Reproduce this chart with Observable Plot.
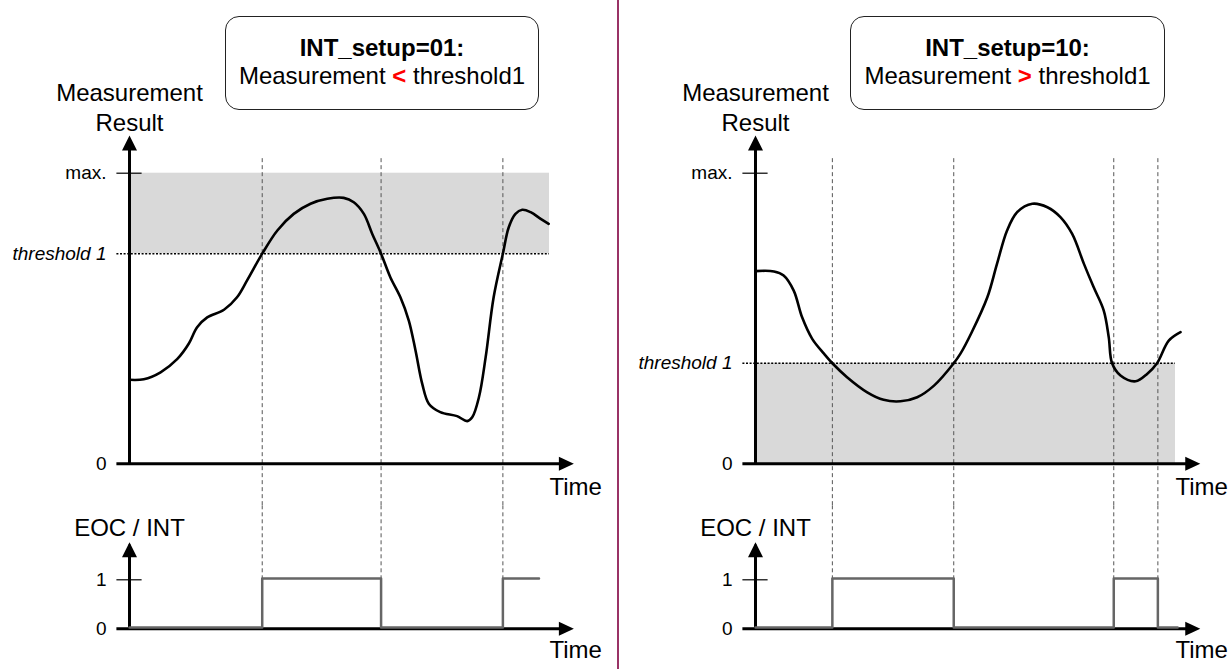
<!DOCTYPE html>
<html>
<head>
<meta charset="utf-8">
<script src="https://cdn.jsdelivr.net/npm/d3@7"></script>
<script src="https://cdn.jsdelivr.net/npm/@observablehq/plot@0.6"></script>
<style>
  html, body { margin: 0; padding: 0; background: #fff; }
  #root { position: relative; width: 1230px; height: 669px; overflow: hidden; background: #fff;
          font-family: "Liberation Sans", Arial, sans-serif; color: #000; }
  .side { position: absolute; top: 0; width: 604px; height: 669px; }
  .side > svg { position: absolute; left: 0; overflow: visible; }
  .box { position: absolute; top: 16px; height: 94px; box-sizing: border-box; border: 1.5px solid #222;
         border-radius: 14px; text-align: center; font-size: 24px; line-height: 28px; padding-top: 17px; }
  .box b { font-weight: bold; }
  .box .op { color: #ff0000; font-weight: bold; }
  .divider { position: absolute; left: 617px; top: 0; width: 1.5px; height: 669px; background: #993366; }
</style>
</head>
<body>
<div id="root">
  <div class="box" style="left:225px;width:314px;"><b>INT_setup=01:</b><br>Measurement <span class="op">&lt;</span> threshold1</div>
  <div class="box" style="left:850px;width:315px;"><b>INT_setup=10:</b><br>Measurement <span class="op">&gt;</span> threshold1</div>
  <div class="divider"></div>
</div>
<script>
// ---------- data (time in % of the window, measurement in % of max.) ----------
const measurementMax = 100;

const leftThreshold = 72.3;
const leftTime  = [0, 3.4, 7.4, 11.4, 14.1, 16.1, 18.5, 22.5, 25.6, 28.0, 31.6, 35.2, 39.1, 43.1, 47.1, 51.0, 53.4, 55.8, 57.8, 59.9, 62.1, 64.5, 66.5, 68.1, 69.7, 71.3, 74.0, 78.0, 80.4, 81.6, 83.2, 84.8, 86.7, 88.9, 90.3, 91.9, 93.5, 95.5, 97.9, 99.8];
const leftValue = [28.9, 29.1, 31.5, 36.1, 41.3, 47.0, 50.4, 53.0, 57.3, 63.1, 72.3, 80.3, 86.0, 89.5, 91.2, 91.5, 90.0, 86.0, 79.1, 72.3, 64.2, 57.3, 49.3, 39.0, 27.5, 20.6, 17.8, 16.4, 14.7, 16.0, 22.9, 36.7, 57.3, 72.3, 81.4, 86.0, 87.4, 86.6, 84.3, 82.6];
const leftCrossings = [31.6, 59.9, 88.9];
const leftEocTime  = [0, 31.6, 59.9, 88.9, 97.5];
const leftEocValue = [0, 1, 0, 1, 1];

const rightThreshold = 34.6;
const rightTime  = [0, 4.4, 6.7, 9.1, 11.1, 13.5, 16.3, 18.3, 21.8, 26.6, 30.5, 34.5, 38.5, 42.5, 47.2, 48.8, 51.4, 55.2, 57.5, 59.9, 62.3, 65.9, 69.5, 72.6, 75.4, 78.2, 80.5, 82.9, 84.1, 84.9, 86.9, 90.5, 93.3, 95.6, 98.4, 101.2];
const rightValue = [66.3, 66.2, 64.8, 59.6, 50.4, 43.0, 37.9, 34.6, 29.8, 24.6, 22.0, 21.5, 22.9, 26.9, 34.6, 37.9, 45.0, 57.3, 68.8, 80.3, 86.6, 89.5, 88.3, 84.9, 79.1, 68.8, 60.8, 52.8, 43.6, 34.6, 30.4, 28.4, 31.0, 34.6, 42.4, 45.3];
const rightCrossings = [18.3, 47.2, 85.3, 95.8];
const rightEocTime  = [0, 18.3, 47.2, 85.3, 95.8, 100.5];
const rightEocValue = [0, 1, 0, 1, 0, 0];

const measTickValues = [0, measurementMax];
const measTickLabels = ["0", "max."];
const eocTickValues = [0, 1];
const eocTickLabels = ["0", "1"];

// ---------- layout ----------
const FONT = "'Liberation Sans', Arial, sans-serif";
const W = 604, ML = 129, MR = 55;
const TOP_H = 505, TOP_MT = 172.7, TOP_MB = 41.7;
const BOT_H = 164, BOT_MT = 74.3, BOT_MB = 40.7;

// filled arrow heads, tip at the anchor point
const arrowUp = { draw(c) { c.moveTo(0, 0); c.lineTo(-7.5, 15); c.lineTo(7.5, 15); c.closePath(); } };
const arrowRight = { draw(c) { c.moveTo(0, 0); c.lineTo(-15, -7); c.lineTo(-15, 7); c.closePath(); } };

function topPlot(side) {
  const data = d3.zip(side.time, side.value).map(([t, v]) => ({t, v}));
  const pxPerUnit = (TOP_H - TOP_MT - TOP_MB) / measurementMax;
  const frameBottom = -TOP_MB / pxPerUnit;
  const yTip = 113, xTip = side.xTip;
  return Plot.plot({
    width: W, height: TOP_H,
    marginLeft: ML, marginRight: MR, marginTop: TOP_MT, marginBottom: TOP_MB,
    x: {domain: [0, 100], axis: null, label: null},
    y: {domain: [0, measurementMax], axis: null, label: null},
    style: {fontFamily: FONT, fontSize: "19px", background: "transparent", color: "#000"},
    marks: [
      Plot.rect([side.band], {x1: "x1", x2: "x2", y1: "y1", y2: "y2", fill: "#d9d9d9"}),
      Plot.ruleX(side.crossings, {y1: 105, y2: frameBottom, stroke: "#555", strokeWidth: 1, strokeDasharray: "4,3"}),
      Plot.ruleY([side.threshold], {x1: -3, x2: 100, stroke: "#000", strokeWidth: 1.6, strokeDasharray: "2,1.6"}),
      Plot.line(data, {x: "t", y: "v", curve: "catmull-rom", stroke: "#000", strokeWidth: 2.6}),
      Plot.ruleY([0], {x1: -3, x2: xTip - 2, stroke: "#000", strokeWidth: 3}),
      Plot.ruleX([0], {y1: 0, y2: yTip - 3, stroke: "#000", strokeWidth: 3}),
      Plot.dot([0], {x: xTip, y: 0, symbol: arrowRight, fill: "#000", stroke: null}),
      Plot.dot([0], {x: 0, y: yTip, symbol: arrowUp, fill: "#000", stroke: null}),
      Plot.ruleY([measurementMax], {x1: -3, x2: 3, stroke: "#000", strokeWidth: 1.2}),
      Plot.axisY(measTickValues, {tickSize: 0, tickPadding: 23, tickFormat: (d, i) => measTickLabels[i], fontSize: 19, label: null}),
      Plot.text([side.threshold], {x: 0, y: d => d, text: () => "threshold 1", textAnchor: "end", dx: -23, fontStyle: "italic", fontSize: 19}),
      Plot.text(["Measurement\nResult"], {x: 0, y: 114.35, text: d => d, textAnchor: "middle", lineAnchor: "bottom", lineHeight: 1.25, fontSize: 24}),
      Plot.text(["Time"], {x: 100, y: 0, text: d => d, textAnchor: "start", dy: 24, fontSize: 24})
    ]
  });
}

function bottomPlot(side) {
  const data = d3.zip(side.eocTime, side.eocValue).map(([t, v]) => ({t, v}));
  const pxPerUnit = (BOT_H - BOT_MT - BOT_MB);
  const frameTop = 1 + BOT_MT / pxPerUnit;
  const yTip = 1.767, xTip = side.xTip;
  return Plot.plot({
    width: W, height: BOT_H,
    marginLeft: ML, marginRight: MR, marginTop: BOT_MT, marginBottom: BOT_MB,
    x: {domain: [0, 100], axis: null, label: null},
    y: {domain: [0, 1], axis: null, label: null},
    style: {fontFamily: FONT, fontSize: "19px", background: "transparent", color: "#000"},
    marks: [
      Plot.ruleX(side.crossings, {y1: 1, y2: frameTop, stroke: "#555", strokeWidth: 1, strokeDasharray: "4,3"}),
      Plot.ruleY([0], {x1: -3, x2: xTip - 2, stroke: "#000", strokeWidth: 3}),
      Plot.ruleX([0], {y1: 0, y2: yTip - 0.06, stroke: "#000", strokeWidth: 3}),
      Plot.dot([0], {x: xTip, y: 0, symbol: arrowRight, fill: "#000", stroke: null}),
      Plot.dot([0], {x: 0, y: yTip, symbol: arrowUp, fill: "#000", stroke: null}),
      Plot.ruleY([1], {x1: -3, x2: 3, stroke: "#000", strokeWidth: 1.2}),
      Plot.line(data, {x: "t", y: "v", curve: "step-after", stroke: "#666", strokeWidth: 2.5, dy: -1.2}),
      Plot.axisY(eocTickValues, {tickSize: 0, tickPadding: 23, tickFormat: (d, i) => eocTickLabels[i], fontSize: 19, label: null}),
      Plot.text(["EOC / INT"], {x: 0, y: 1.904, text: d => d, textAnchor: "middle", lineAnchor: "bottom", fontSize: 24}),
      Plot.text(["Time"], {x: 100, y: 0, text: d => d, textAnchor: "start", dy: 22, fontSize: 24})
    ]
  });
}

const sides = [
  {left: 0, time: leftTime, value: leftValue, threshold: leftThreshold, crossings: leftCrossings,
   band: {x1: 0, x2: 100, y1: leftThreshold, y2: measurementMax}, eocTime: leftEocTime, eocValue: leftEocValue, xTip: 105.8},
  {left: 626, time: rightTime, value: rightValue, threshold: rightThreshold, crossings: rightCrossings,
   band: {x1: 0, x2: 100, y1: 0, y2: rightThreshold}, eocTime: rightEocTime, eocValue: rightEocValue, xTip: 105.9}
];

const root = document.getElementById("root");
for (const s of sides) {
  const div = document.createElement("div");
  div.className = "side";
  div.style.left = s.left + "px";
  const top = topPlot(s);
  top.style.top = "0px";
  const bot = bottomPlot(s);
  bot.style.top = TOP_H + "px";
  div.appendChild(top);
  div.appendChild(bot);
  root.appendChild(div);
}
</script>
</body>
</html>
